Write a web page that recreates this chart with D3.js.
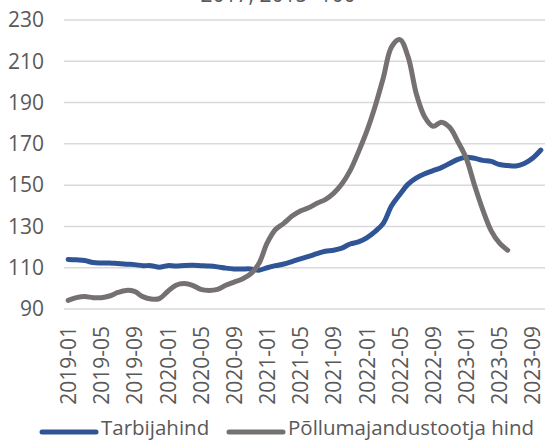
<!DOCTYPE html>
<html>
<head>
<meta charset="utf-8">
<script src="https://cdn.jsdelivr.net/npm/d3@7"></script>
<style>
  body { margin: 0; background: #fff; }
  svg { font-family: "Open Sans", sans-serif; }
</style>
</head>
<body>
<div class="chart"></div>
<script>
(function () {
  // months 2019-01 .. 2023-10
  var months = [];
  for (var yr = 2019; yr <= 2023; yr++) {
    for (var m = 1; m <= 12; m++) {
      if (yr === 2023 && m > 10) break;
      months.push(yr + '-' + (m < 10 ? '0' + m : m));
    }
  }

  var tarbijahind = [
    114, 113.8, 113.5, 112.5, 112.3, 112.3, 112, 111.7, 111.5, 111, 111, 110.2,
    111, 110.8, 111.1, 111.2, 111, 110.8, 110.4, 109.8, 109.4, 109.4, 109.4, 108.8,
    110, 111, 111.8, 113, 114.3, 115.5, 116.8, 118, 118.5, 119.5, 121.5, 122.5,
    124.5, 127.5, 131.5, 140, 145.5, 150.5, 153.5, 155.5, 157, 158.5, 160.5, 162.5,
    163.5, 163, 162, 161.5, 160, 159.5, 159.3, 160.5, 163, 167
  ];
  var pollumajandus = [
    94.2, 95.5, 96, 95.5, 95.5, 96.3, 98, 99, 98.5, 96, 94.8, 95,
    98.5, 101.5, 102.3, 101.5, 99.5, 99, 99.5, 101.5, 103, 104.5, 107, 112,
    122, 128.5, 131.5, 135, 137.5, 139, 141.2, 143, 146, 150.5, 157, 166,
    176, 188, 202, 217, 220.5, 212, 194, 183, 178.5, 180.5, 178, 171,
    163, 150, 138, 128, 122, 118.5
  ];
  var yTicks = [90, 110, 130, 150, 170, 190, 210, 230];
  var xTicks = months.filter(function (d, i) { return i % 4 === 0; });

  var series = [
    { name: 'Tarbijahind', values: tarbijahind, color: '#2f5597' },
    { name: 'Põllumajandustootja hind', values: pollumajandus, color: '#767171' }
  ];

  var svg = d3.select('.chart').append('svg')
    .attr('width', 548)
    .attr('height', 441);

  var x = d3.scalePoint()
    .domain(months)
    .range([64, 545])
    .padding(0.5);
  var y = d3.scaleLinear()
    .domain([90, 230])
    .range([309, 20]);

  // title (cut off at top)
  svg.append('text')
    .attr('x', 278)
    .attr('y', 2)
    .attr('font-size', '21px')
    .attr('fill', '#595959')
    .style('text-anchor', 'middle')
    .text('2017, 2015=100');

  // grid
  svg.append('g')
      .attr('class', 'grid')
    .selectAll('line')
    .data(yTicks)
    .enter().append('line')
      .attr('x1', 64)
      .attr('x2', 545)
      .attr('y1', function (d) { return y(d); })
      .attr('y2', function (d) { return y(d); })
      .attr('stroke', '#d9d9d9')
      .attr('stroke-width', 1.5);

  // y axis
  var axisLeft = d3.axisLeft(y)
    .tickValues(yTicks)
    .tickSize(0)
    .tickPadding(0);
  var gy = svg.append('g')
    .attr('transform', 'translate(44,0)')
    .call(axisLeft);
  gy.select('.domain').remove();
  gy.selectAll('text')
    .attr('font-size', '21px')
    .attr('font-family', '"Open Sans", sans-serif')
    .attr('fill', '#595959');

  // x axis
  var axisBottom = d3.axisBottom(x)
    .tickValues(xTicks)
    .tickSize(0)
    .tickPadding(0);
  var gx = svg.append('g')
    .attr('transform', 'translate(0,309)')
    .call(axisBottom);
  gx.select('.domain').remove();
  gx.selectAll('text')
    .attr('font-size', '21px')
    .attr('font-family', '"Open Sans", sans-serif')
    .attr('fill', '#595959')
    .attr('transform', 'rotate(-90)')
    .attr('x', -17)
    .attr('y', 0)
    .attr('dy', '0.35em')
    .style('text-anchor', 'end');

  // lines
  var line = d3.line()
    .curve(d3.curveCatmullRom.alpha(0.5))
    .x(function (d, i) { return x(months[i]); })
    .y(function (d) { return y(d); });

  svg.append('g')
      .selectAll('path')
      .data(series)
    .enter().append('path')
      .attr('d', function (d) { return line(d.values); })
      .attr('fill', 'none')
      .attr('stroke', function (d) { return d.color; })
      .attr('stroke-width', 5)
      .attr('stroke-linejoin', 'round')
      .attr('stroke-linecap', 'round');

  // legend
  var legendX = [42, 229];
  var legend = svg.append('g')
      .selectAll('g')
      .data(series)
    .enter().append('g')
      .attr('transform', function (d, i) { return 'translate(' + legendX[i] + ',430)'; });
  legend.append('line')
    .attr('x1', 0)
    .attr('x2', 54)
    .attr('y1', 2)
    .attr('y2', 2)
    .attr('stroke', function (d) { return d.color; })
    .attr('stroke-width', 5)
    .attr('stroke-linecap', 'round');
  legend.append('text')
    .attr('x', 59)
    .attr('y', 5)
    .attr('font-size', '20.5px')
    .attr('fill', '#595959')
    .text(function (d) { return d.name; });
})();
</script>
</body>
</html>
